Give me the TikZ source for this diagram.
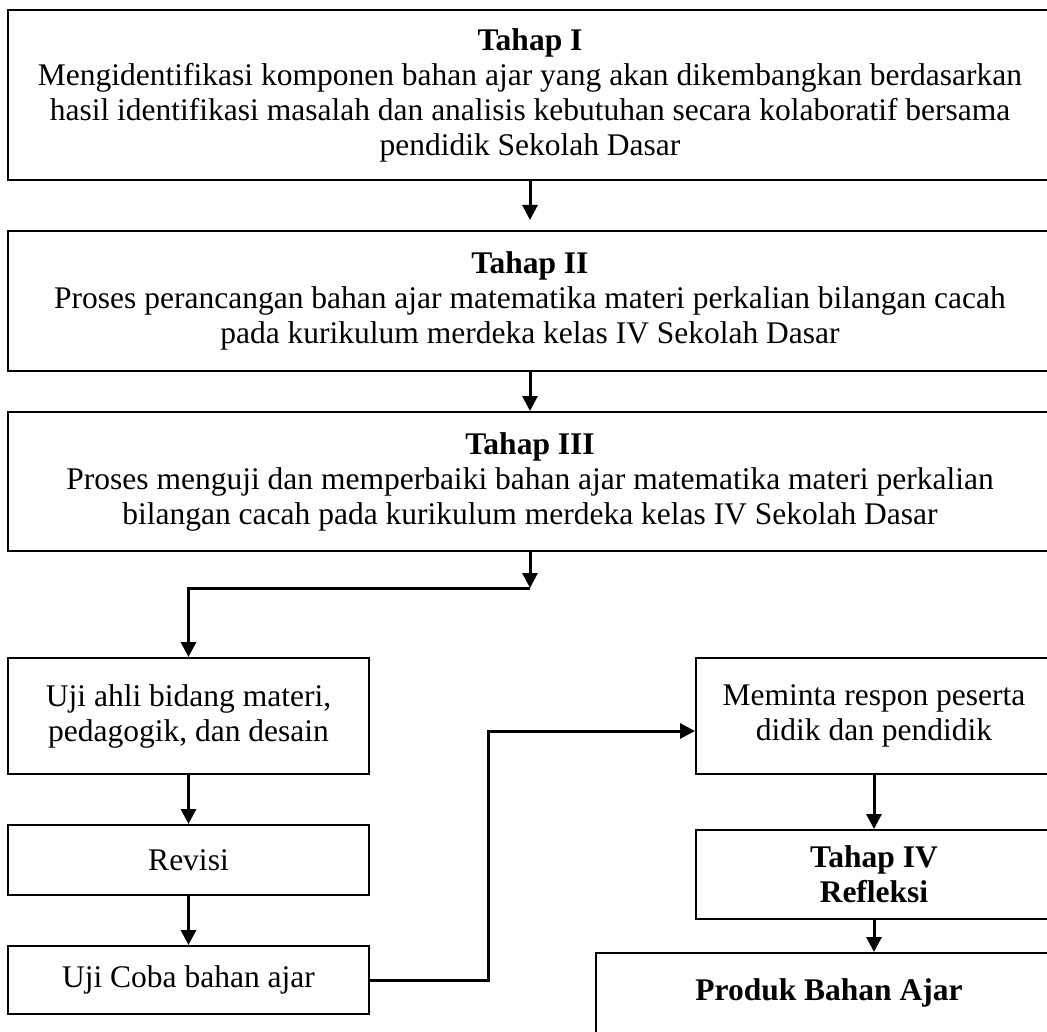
\documentclass[tikz,border=0pt]{standalone}
\usepackage{fontspec}
\setmainfont{Liberation Serif}
\usetikzlibrary{arrows.meta,positioning}

\begin{document}
\begin{tikzpicture}[
  x=0.4pt, y=-0.4pt,
  font=\fontsize{12.6}{14}\selectfont,
  box/.style={draw,line width=0.8pt,align=center,inner sep=2pt},
  wide/.style={box,minimum width=417.6pt},
  small/.style={box,minimum width=144.4pt},
  flow/.style={-{Triangle[length=6pt,width=6pt]},line width=1.2pt}
]
\clip (0,0) rectangle (1047,1032);
% tahapan utama
\node[wide,minimum height=68pt] (tahap1) at (530,95)
  {\textbf{Tahap I}\\
   Mengidentifikasi komponen bahan ajar yang akan dikembangkan berdasarkan\\
   hasil identifikasi masalah dan analisis kebutuhan secara kolaboratif bersama\\
   pendidik Sekolah Dasar};
\node[wide,minimum height=56pt,below=19.6pt of tahap1] (tahap2)
  {\textbf{Tahap II}\\
   Proses perancangan bahan ajar matematika materi perkalian bilangan cacah\\
   pada kurikulum merdeka kelas IV Sekolah Dasar};
\node[wide,minimum height=55.6pt,below=15.6pt of tahap2] (tahap3)
  {\textbf{Tahap III}\\
   Proses menguji dan memperbaiki bahan ajar matematika materi perkalian\\
   bilangan cacah pada kurikulum merdeka kelas IV Sekolah Dasar};
% kolom kiri
\node[small,minimum height=46.4pt] (ujiahli) at (188.5,716)
  {Uji ahli bidang materi,\\pedagogik, dan desain};
\node[small,minimum height=28pt,below=19.6pt of ujiahli] (revisi) {Revisi};
\node[small,minimum height=27.2pt,below=19.6pt of revisi] (ujicoba) {Uji Coba bahan ajar};
% kolom kanan
\node[box,minimum width=142.4pt,minimum height=46.4pt] (respon) at (874,716)
  {Meminta respon peserta\\didik dan pendidik};
\node[box,minimum width=142.4pt,minimum height=35.6pt,below=21.6pt of respon] (tahap4)
  {\textbf{Tahap IV}\\\textbf{Refleksi}};
\node[box,minimum width=186.4pt,minimum height=43.6pt] (produk) at (829,1007.5)
  {\textbf{Produk Bahan Ajar}\\\mbox{}};

\coordinate (belok) at (530,588);
\coordinate (naik) at (488,731);

\draw[flow,shorten >=4pt] (tahap1) -- (tahap2);
\draw[flow] (tahap2) -- (tahap3);
\draw[flow] (tahap3) -- (belok);
\draw[flow] (belok) -| (ujiahli);
\draw[flow] (ujiahli) -- (revisi);
\draw[flow] (revisi) -- (ujicoba);
\draw[flow] (ujicoba.east) -| (naik) -- (respon.west |- naik);
\draw[flow] (respon) -- (tahap4);
\draw[flow] (tahap4.south) -- (tahap4.south |- produk.north);
\end{tikzpicture}
\end{document}
